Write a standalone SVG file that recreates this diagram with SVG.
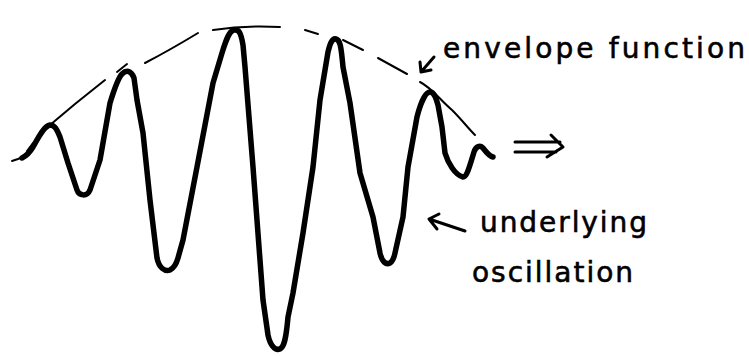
<svg xmlns="http://www.w3.org/2000/svg" width="749" height="356" viewBox="0 0 749 356">
<style>
.wave{fill:none;stroke:#000;stroke-width:5.5;stroke-linecap:round;stroke-linejoin:round}
.env{fill:none;stroke:#000;stroke-width:2;stroke-linecap:round}
.arr{fill:none;stroke:#000;stroke-width:3;stroke-linecap:round;stroke-linejoin:round}
.lbl{font-family:"DejaVu Sans","Liberation Sans",sans-serif;font-size:28px;fill:#000;stroke:#000;stroke-width:0.6}
</style>
<rect width="749" height="356" fill="#fff"/>
<g id="oscillation-curve">
<path class="env" d="M12,161 L18,159 L23,157 M27,151 L33,143"/>
<path class="wave" d="M22,158 C26,156 30,152 33,147 C38,138 44,126 50,125 C55,125 57,130 60,137 L68,163 L77,190 C79,196 87,197 90,190 L100,160 L110,103 C114,90 118,78 122,74 C126,70 131,70 134,78 L137,100 L143,133 L150,200 L157,258 C159,268 165,272 170,270 C174,268 176,265 178,258 L183,240 L197,167 L213,83 L222,53 C226,40 229,31 234,30 C239,29 241,33 243,45 L245,67 L253,167 L263,300 L268,335 C270,345 275,351 280,349 C284,347 286,340 288,317 L293,293 L303,233 L313,167 L320,100 L328,52 C330,44 332,38 336,39 C340,40 341,45 343,67 L350,103 L360,173 L373,217 L380,253 C382,262 386,265 390,263 C393,261 394,258 395,253 L403,217 L408,167 L417,117 C420,105 425,92 430,92 C434,92 436,98 438,105 L442,127 L445,153 C448,163 455,175 463,177 C467,177 470,165 474,152 C476,146 480,145 483,148 C486,152 489,156 493,157"/>
</g>
<g id="envelope">
<path class="env" d="M50,125 L75,104 L105,80"/>
<path class="env" d="M117,72 L127,64"/>
<path class="env" d="M145,63 Q170,50 198,33"/>
<path class="env" d="M213,30 Q245,25 280,27"/>
<path class="env" d="M305,30 L318,34"/>
<path class="env" d="M343,40 L363,50"/>
<path class="env" d="M378,58 L407,74"/>
<path class="env" d="M420,82 C432,88 440,100 452,110 C462,120 468,128 475,135"/>
</g>
<g id="label-envelope">
<path class="arr" d="M434,57 L421,72 M420,62 L421,72 L431,70"/>
<text class="lbl" x="443" y="58" textLength="302" lengthAdjust="spacing">envelope function</text>
</g>
<g id="direction-arrow">
<path class="arr" d="M515,142 L560,142 M515,152 L556,152 M551,135 L563,147 L547,157"/>
</g>
<g id="label-oscillation">
<path class="arr" d="M465,231 L429,219 M439,214 L429,219 L437,229"/>
<text class="lbl" x="480" y="232" textLength="167" lengthAdjust="spacing">underlying</text>
<text class="lbl" x="472" y="282" textLength="161" lengthAdjust="spacing">oscillation</text>
</g>
</svg>
